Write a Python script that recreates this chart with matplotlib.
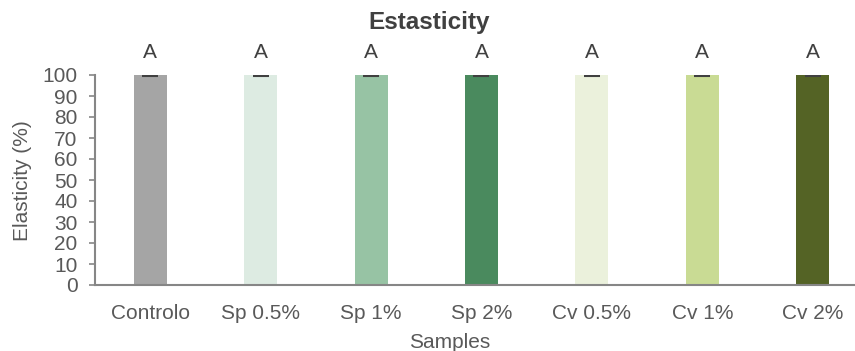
import matplotlib
matplotlib.use("Agg")
import matplotlib.pyplot as plt

categories = ["Controlo", "Sp 0.5%", "Sp 1%", "Sp 2%", "Cv 0.5%", "Cv 1%", "Cv 2%"]
values = [100, 100, 100, 100, 100, 100, 100]
errors = [0.3, 0.3, 0.3, 0.3, 0.3, 0.3, 0.3]
letters = ["A", "A", "A", "A", "A", "A", "A"]
colors = ["#A5A5A5", "#DDEBE2", "#97C3A4", "#4A8A5E", "#EBF1DC", "#C9DB94", "#546325"]

plt.rcParams['font.family'] = ['Liberation Sans', 'DejaVu Sans']

fig = plt.figure(figsize=(8.55, 3.51), dpi=100)
ax = fig.add_axes([95/855, 1-285/351, (868-95)/855, (285-75)/351])
x = list(range(len(categories)))
ax.bar(x, values, width=0.3, color=colors, zorder=2)
ax.errorbar(x, values, yerr=errors, fmt='none', ecolor='#404040', elinewidth=1, capsize=6, capthick=1.5, zorder=3)
for xi, v, l in zip(x, values, letters):
    ax.text(xi, v + 8, l, ha='center', va='baseline', fontsize=15, color='#404040')

ax.set_xlim(-0.5, 6.5)
ax.set_ylim(0, 100)
ax.set_yticks(range(0, 101, 10))
ax.set_xticks(x)
ax.set_xticklabels(categories)
for s in ['top', 'right']:
    ax.spines[s].set_visible(False)
for s in ['left', 'bottom']:
    ax.spines[s].set_color('#868686')
    ax.spines[s].set_linewidth(1.5)
ax.tick_params(axis='y', direction='out', length=4.5, width=1.2, color='#868686', labelsize=15, labelcolor='#595959', pad=8)
ax.tick_params(axis='x', length=0, labelsize=15, labelcolor='#595959', pad=14)
fig.text(22/855, 1-181/351, "Elasticity (%)", rotation=90, ha='center', va='center', fontsize=15, color='#595959')
fig.text(450/855, 1-342/351, "Samples", ha='center', va='center', fontsize=15, color='#595959')
fig.text(429/855, 1-22/351, "Estasticity", ha='center', va='center', fontsize=17.5, fontweight='bold', color='#404040')

fig.savefig("out.png", dpi=100)
